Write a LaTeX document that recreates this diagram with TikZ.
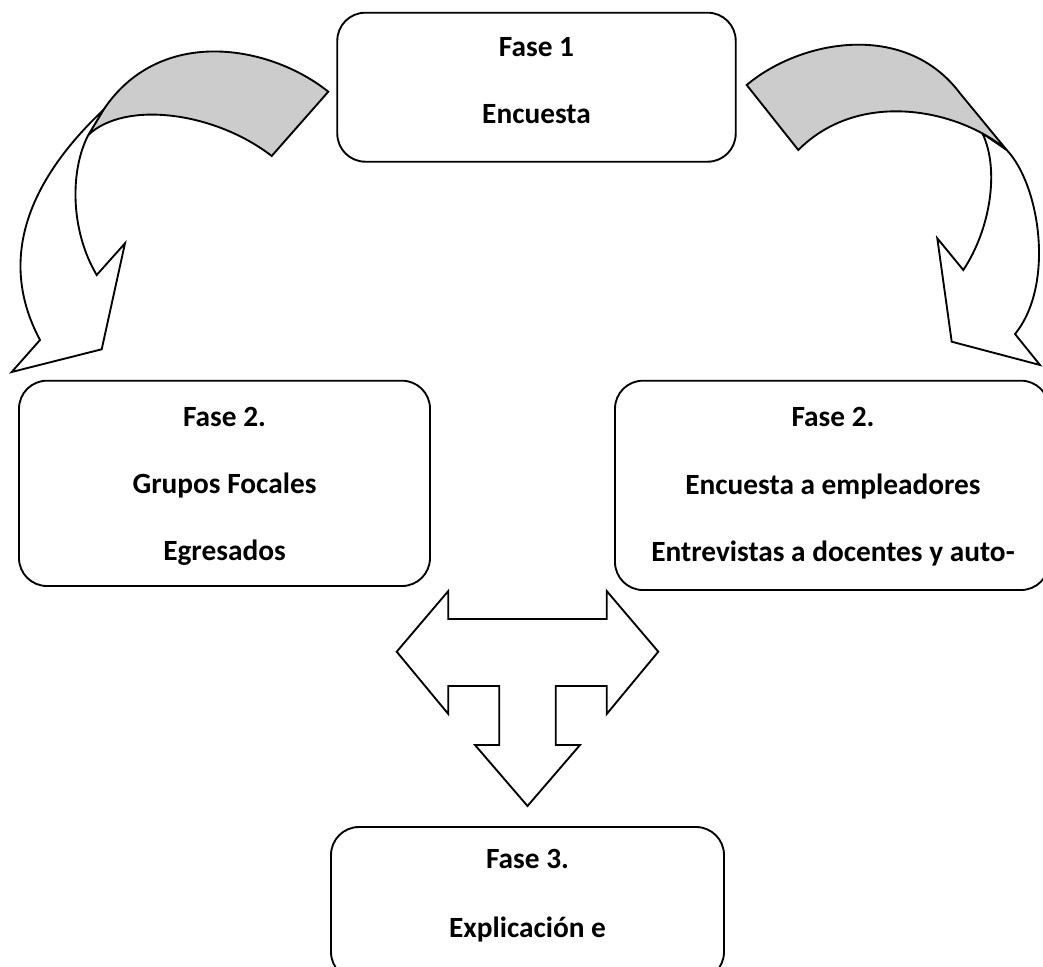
\documentclass[tikz,border=0pt]{standalone}
\usepackage{fontspec}
\setmainfont{Carlito}
\definecolor{bandgray}{RGB}{204,204,204}
\tikzset{
  phasebox/.style={draw=black, line width=1.4pt, rounded corners=21pt, fill=white, inner sep=0pt},
  phasetext/.style={anchor=base, font=\fontsize{22}{26}\selectfont\bfseries, inner sep=0pt},
  shapeline/.style={draw=black, line width=1.4pt, line join=miter},
}
\begin{document}
\begin{tikzpicture}[x=0.75pt,y=-0.75pt]
\useasboundingbox (0,0) rectangle (1043,967);
\clip (0,0) rectangle (1043,967);

% boxes
\node[phasebox, minimum width=298.8pt, minimum height=111.75pt] (f1) at (536.5,87.2) {};
\node[phasebox, minimum width=308.25pt, minimum height=154pt] (f2a) at (224.5,483.35) {};
\node[phasebox, minimum width=325.5pt, minimum height=157pt] (f2b) at (832,485.35) {};
\node[phasebox, minimum width=294.75pt, minimum height=114.75pt] (f3) at (527.5,903.5) {};

% texts
\node[phasetext] (t1a) at (536.5,56) {Fase 1};
\node[phasetext] (t1b) at (536.5,123.3) {Encuesta};
\node[phasetext] (t2a) at (224.5,426) {Fase 2.};
\node[phasetext] (t2b) at (224.5,493.3) {Grupos Focales};
\node[phasetext] (t2c) at (224.5,560.7) {Egresados};
\node[phasetext] (t3a) at (833,426) {Fase 2.};
\node[phasetext] (t3b) at (833,494) {Encuesta a empleadores};
\node[phasetext] (t3c) at (833,561.7) {Entrevistas a docentes y auto-};
\node[phasetext] (t4a) at (527.5,868.3) {Fase 3.};
\node[phasetext] (t4b) at (527.5,937.3) {Explicación e};

% left curved arrow: gray back band
\path[shapeline, fill=bandgray]
  (328.3,91.7) .. controls (270,45) and (160,25) .. (103.3,110)
  -- (88.3,135)
  .. controls (125,100) and (215,112) .. (271.7,156)
  -- cycle;
% left curved arrow: white front part
\path[shapeline, fill=white]
  (103.3,110) .. controls (40,170) and (-8,250) .. (40,340)
  -- (11.7,372) -- (101.7,349.3) -- (125,243.3) -- (96.7,275)
  .. controls (70,230) and (70,170) .. (88.3,135)
  -- cycle;

% right curved arrow: white front part
\path[shapeline, fill=white]
  (1006.7,150) .. controls (1040,185) and (1055,285) .. (1015,334)
  -- (1040,365) -- (951.7,341.7) -- (937.3,238.3) -- (963.3,270)
  .. controls (990,230) and (1000,170) .. (982.4,133.4)
  -- cycle;
% right curved arrow: gray back band
\path[shapeline, fill=bandgray]
  (746.7,85) .. controls (800,40) and (905,20) .. (960,93.3)
  -- (1006.7,150)
  .. controls (960,110) and (860,88) .. (798.3,150)
  -- cycle;

% three-way arrow
\path[shapeline, fill=white]
  (396.7,651.7) -- (448.3,591) -- (448.3,619) -- (606.7,619) -- (606.7,591)
  -- (658.3,651.7) -- (606.7,714) -- (606.7,686) -- (555.7,686) -- (555.7,745)
  -- (580,745) -- (527.5,806) -- (475,745) -- (499.3,745) -- (499.3,686)
  -- (448.3,686) -- (448.3,714) -- cycle;
\end{tikzpicture}
\end{document}
